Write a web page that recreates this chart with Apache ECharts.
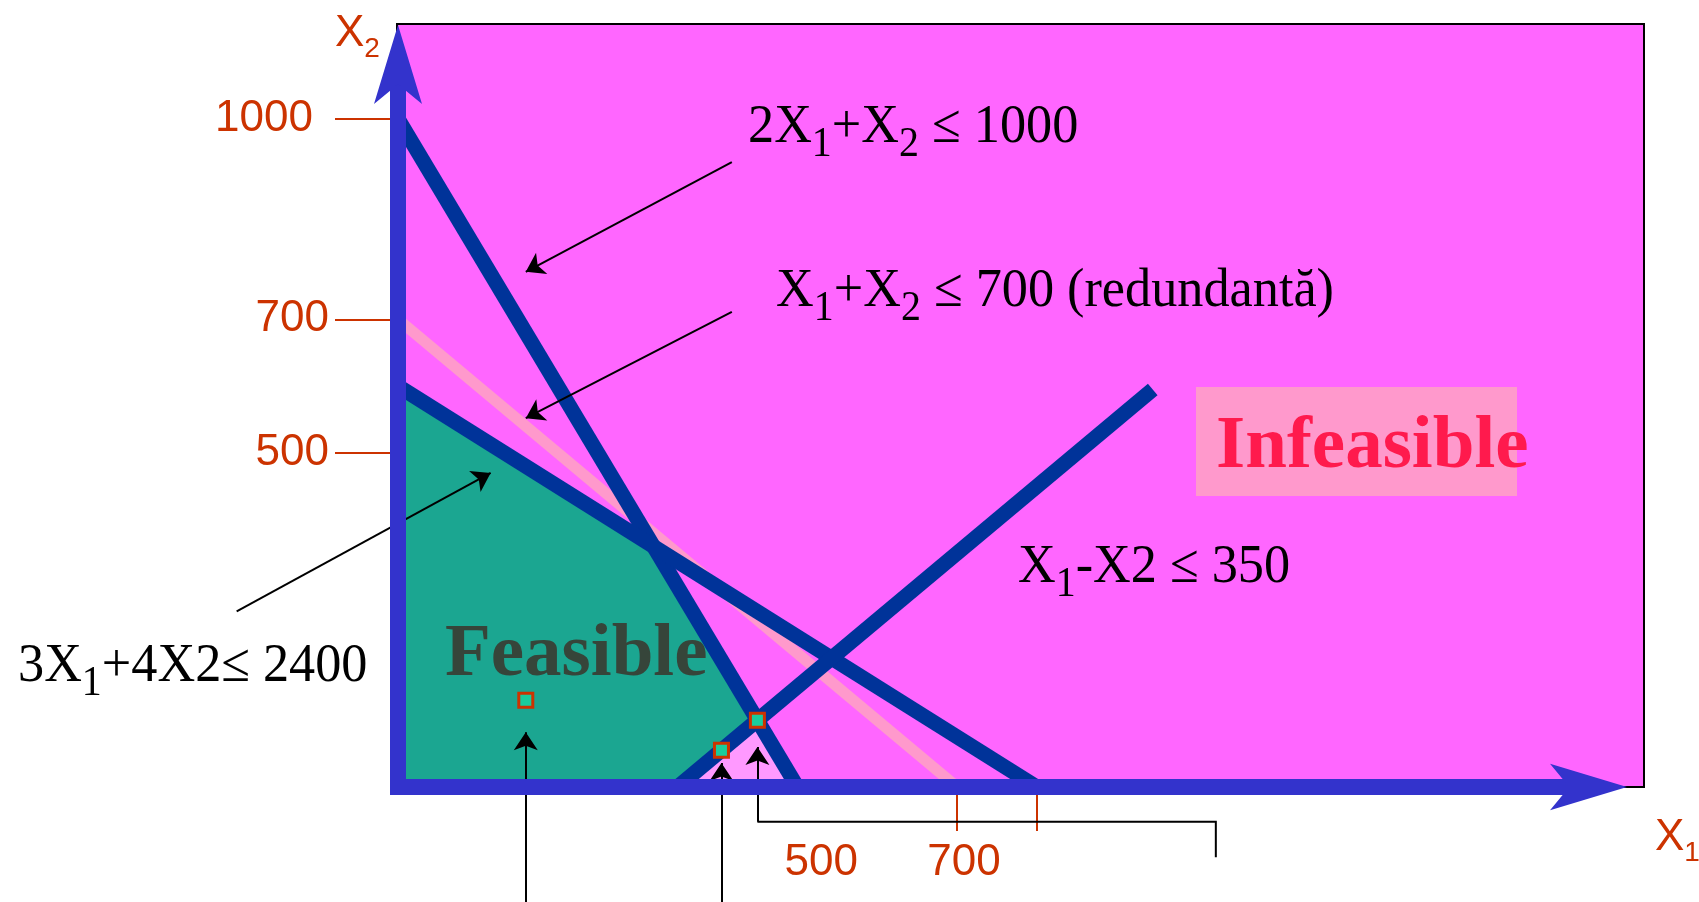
<!DOCTYPE html>
<html>
<head>
<meta charset="utf-8">
<script src="https://cdn.jsdelivr.net/npm/echarts@6/dist/echarts.min.js"></script>
<style>
  html, body { margin: 0; padding: 0; background: #ffffff; }
  #chart { width: 1699px; height: 902px; }
</style>
</head>
<body>
<div id="chart"></div>
<script>
// Constraint boundaries, as segments in (X1, X2) units
const line2X1PlusX2 = [[0, 1000], [500, 0]];        // 2X1 + X2 = 1000
const lineX1PlusX2 = [[0, 700], [700, 0]];          // X1 + X2 = 700 (redundant)
const line3X1Plus4X2 = [[0, 600], [800, 0]];        // 3X1 + 4X2 = 2400
const lineX1MinusX2 = [[350, 0], [945, 595]];       // X1 - X2 = 350

// Feasible polygon and the small region cut away by X1 - X2 <= 350
const feasibleRegion = [[0, 0], [0, 600], [320, 360], [450, 100], [350, 0]];
const cutRegion = [[350, 0], [450, 100], [500, 0]];

// Highlighted points
const markedPoints = [[160, 130], [405, 55], [450, 100]];

// Axis ticks and labels
const x2Ticks = [500, 700, 1000];
const x1Ticks = [700, 800];
const x1Labels = [500, 700];

// Annotation pointers (start -> arrow tip)
const pointerArrows = [
  [[418, 935], [160, 771]],
  [[418, 711], [160, 552]],
  [[-202, 263], [116, 470]],
  [[160, -180], [160, 82]],
  [[405, -180], [405, 36]],
  [[450, -52], [450, 60]]
];
const bracketPath = [[450, -52], [1024, -52], [1024, -105]];

const X_MAX = 1490;
const Y_MAX = 1085;

const serif = '"Liberation Serif", "Times New Roman", serif';
const sans = '"Liberation Sans", Arial, sans-serif';
const TICK_RED = '#cc3300';
const AXIS_BLUE = '#3333cc';
const LINE_BLUE = '#003399';

const chart = echarts.init(document.getElementById('chart'), null, { renderer: 'canvas' });

function regionSeries(name, points, color) {
  return {
    type: 'custom', name: name, xAxisIndex: 1, yAxisIndex: 1,
    silent: true, clip: false, z: 1,
    data: [points[0]],
    renderItem: function (params, api) {
      return {
        type: 'polygon',
        shape: { points: points.map(function (p) { return api.coord(p); }) },
        style: { fill: color }
      };
    }
  };
}

function boundarySeries(name, points, color, width) {
  return {
    type: 'line', name: name, xAxisIndex: 1, yAxisIndex: 1,
    data: points, symbol: 'none', silent: true, z: 2,
    lineStyle: { color: color, width: width }
  };
}

// Times-style formula with lowered subscripts
function formulaText(x, y, text) {
  return {
    type: 'text', x: x, y: y, z: 100, silent: true, scaleX: 0.95,
    style: {
      text: text, font: '55px ' + serif, fill: '#000000', verticalAlign: 'middle',
      rich: { s: { font: '42px ' + serif, fill: '#000000', padding: [33, 0, 0, 0] } }
    }
  };
}

function axisName(x, y, text) {
  return {
    type: 'text', x: x, y: y, z: 100, silent: true,
    style: { text: text, font: '44px ' + sans, fill: TICK_RED, verticalAlign: 'middle',
      rich: { s: { font: '28px ' + sans, fill: TICK_RED, padding: [30, 0, 0, 0] } } }
  };
}

const option = {
  animation: false,
  backgroundColor: '#ffffff',
  grid: [
    { left: 397, right: 55, top: 24, bottom: 115, show: true,
      backgroundColor: '#ff66ff', borderColor: '#000000', borderWidth: 2 },
    { left: 398, right: 111, top: 62, bottom: 115, show: false }
  ],
  xAxis: [
    { gridIndex: 0, type: 'value', show: false, min: 0, max: 1 },
    { gridIndex: 1, type: 'value', min: 0, max: X_MAX, z: 5,
      axisLine: { show: true, onZero: false,
        lineStyle: { color: AXIS_BLUE, width: 16, cap: 'square' },
        symbol: ['none', 'arrow'], symbolSize: [35, 77], symbolOffset: [0, 39] },
      axisTick: { show: false }, axisLabel: { show: false }, splitLine: { show: false } },
    { gridIndex: 1, type: 'value', min: 0, max: X_MAX, position: 'bottom', offset: 8, z: 1,
      axisLine: { show: false, onZero: false },
      axisTick: { show: true, customValues: x1Ticks, length: 36,
        lineStyle: { color: TICK_RED, width: 2 } },
      axisLabel: { show: true, customValues: x1Labels, margin: 46,
        color: TICK_RED, fontSize: 44, fontFamily: sans,
        formatter: function (v) { return v === 500 ? '{a|500}' : '{b|' + v + '}'; },
        rich: {
          a: { color: TICK_RED, fontSize: 44, fontFamily: sans, padding: [0, 0, 0, 48] },
          b: { color: TICK_RED, fontSize: 44, fontFamily: sans, padding: [0, 0, 0, 14] }
        } },
      splitLine: { show: false } }
  ],
  yAxis: [
    { gridIndex: 0, type: 'value', show: false, min: 0, max: 1 },
    { gridIndex: 1, type: 'value', min: 0, max: Y_MAX, z: 5,
      axisLine: { show: true, onZero: false,
        lineStyle: { color: AXIS_BLUE, width: 16, cap: 'square' },
        symbol: ['none', 'arrow'], symbolSize: [36, 79], symbolOffset: [0, 37] },
      axisTick: { show: false }, axisLabel: { show: false }, splitLine: { show: false } },
    { gridIndex: 1, type: 'value', min: 0, max: Y_MAX, position: 'left', offset: 8, z: 1,
      axisLine: { show: false, onZero: false },
      axisTick: { show: true, customValues: x2Ticks, length: 55,
        lineStyle: { color: TICK_RED, width: 2 } },
      axisLabel: { show: true, customValues: x2Ticks, margin: 61,
        color: TICK_RED, fontSize: 44, fontFamily: sans,
        formatter: function (v) { return v === 1000 ? '{w|1000}' : String(v); },
        rich: { w: { color: TICK_RED, fontSize: 44, fontFamily: sans, padding: [0, 16, 0, 0] } } },
      splitLine: { show: false } }
  ],
  series: [
    regionSeries('Feasible', feasibleRegion, '#1ba691'),
    regionSeries('Cut', cutRegion, '#ff99ff'),
    boundarySeries('X1+X2<=700', lineX1PlusX2, '#ff99cc', 11),
    boundarySeries('2X1+X2<=1000', line2X1PlusX2, LINE_BLUE, 15),
    boundarySeries('3X1+4X2<=2400', line3X1Plus4X2, LINE_BLUE, 15),
    boundarySeries('X1-X2<=350', lineX1MinusX2, LINE_BLUE, 15),
    {
      type: 'scatter', name: 'Points', xAxisIndex: 1, yAxisIndex: 1,
      data: markedPoints, symbol: 'rect', symbolSize: 14, silent: true, z: 4,
      itemStyle: { color: '#19cc9c', borderColor: TICK_RED, borderWidth: 3, opacity: 1 }
    },
    {
      type: 'lines', name: 'Pointers', coordinateSystem: 'cartesian2d',
      xAxisIndex: 1, yAxisIndex: 1, clip: false, silent: true, z: 3,
      symbol: ['none', 'arrow'], symbolSize: [12, 18],
      lineStyle: { color: '#000000', width: 2, opacity: 1, curveness: 0 },
      data: pointerArrows.map(function (c) { return { coords: c }; })
    },
    {
      type: 'lines', name: 'Bracket', coordinateSystem: 'cartesian2d', polyline: true,
      xAxisIndex: 1, yAxisIndex: 1, clip: false, silent: true, z: 3,
      symbol: 'none',
      lineStyle: { color: '#000000', width: 2, opacity: 1 },
      data: [{ coords: bracketPath }]
    }
  ],
  graphic: [
    formulaText(748, 128, '2X{s|1}+X{s|2} ≤ 1000'),
    formulaText(776, 292, 'X{s|1}+X{s|2} ≤ 700 (redundantă)'),
    formulaText(1018, 568, 'X{s|1}-X2 ≤ 350'),
    formulaText(18, 667, '3X{s|1}+4X2≤ 2400'),
    { type: 'text', x: 445, y: 656, z: 100, silent: true,
      style: { text: 'Feasible', font: 'bold 75px ' + serif, fill: '#36453a', verticalAlign: 'middle' } },
    { type: 'rect', z: 99, silent: true,
      shape: { x: 1196, y: 387, width: 321, height: 109 }, style: { fill: '#ff99cc' } },
    { type: 'text', x: 1216, y: 448, z: 100, silent: true,
      style: { text: 'Infeasible', font: 'bold 75px ' + serif, fill: '#ff1a4d', verticalAlign: 'middle' } },
    axisName(335, 34, 'X{s|2}'),
    axisName(1655, 838, 'X{s|1}')
  ]
};

chart.setOption(option);
</script>
</body>
</html>
